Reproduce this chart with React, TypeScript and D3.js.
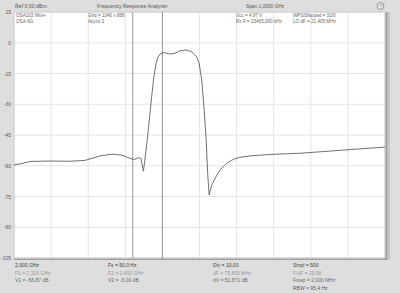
import React from "react";
import * as d3 from "d3";

const freqGHz = [2.0, 2.0216, 2.043, 2.097, 2.151, 2.191, 2.232, 2.267, 2.294, 2.31, 2.321, 2.329, 2.335, 2.342, 2.349, 2.355, 2.362, 2.371, 2.377, 2.383, 2.389, 2.396, 2.407, 2.42, 2.434, 2.447, 2.464, 2.479, 2.492, 2.499, 2.506, 2.512, 2.518, 2.522, 2.526, 2.533, 2.542, 2.555, 2.573, 2.591, 2.609, 2.636, 2.69, 2.771, 2.833, 2.914, 3.0];
const levelDb = [-59.6, -58.9, -57.9, -57.7, -57.8, -57.4, -55.2, -54.3, -55.0, -56.2, -56.9, -56.7, -56.0, -56.4, -62.6, -53.8, -42.6, -26.3, -16.6, -10.0, -6.8, -5.1, -4.85, -5.5, -5.1, -4.0, -3.5, -4.4, -6.8, -10.0, -18.2, -31.2, -47.4, -63.7, -74.3, -69.4, -66.1, -62.1, -58.8, -56.9, -55.9, -55.2, -54.5, -53.9, -53.1, -52.0, -50.9];
const yTicks = [15, 0, -15, -30, -45, -60, -75, -90, -105];
const xTicks = [2.0, 2.1, 2.2, 2.3, 2.4, 2.5, 2.6, 2.7, 2.8, 2.9, 3.0];
const cursorFreqs = [2.32, 2.4];

const topTitle = "Frequency Response Analyzer";
const topRef = "Ref  0,00 dBm";
const topSpan = "Span  1,0000 GHz";
const headerCols = [
  ["OSA103 Mini+", "OSA-6G"],
  ["Grid = 1040 x 888", "Async 2"],
  ["Vcc = 4,97 V", "Rx F = 23465,000 kHz"],
  ["WPS/Skipped  = 32/0", "LO dF = 21,405 MHz"],
];
const footerCols = [
  ["2,000 GHz", "F1 = 2,320 GHz", "V1 = -56,87 dB"],
  ["Fs = 50,0 Hz", "F2 = 2,400 GHz", "V2 = -5,00 dB"],
  ["Div = 10,00", "dF = 79,800 MHz", "dV = 51,871 dB"],
  ["Smpl = 500", "F/dF = 29,58", "Fstep = 2,000 MHz", "RBW = 95,4 Hz"],
];

const W = 400;
const H = 293;
const L = 14, R = 385, T = 12, B = 258;
const headerX = [16, 88, 236, 293];
const footerX = [15, 108, 213, 293];
const footerColors = ["#3c3c3c", "#9a9a9a", "#6a6a6a", "#5a5a5a"];
const FONT = "'Liberation Sans', Arial, sans-serif";

export default function App() {
  const x = d3.scaleLinear().domain([2.0, 3.0]).range([L, R]);
  const y = d3.scaleLinear().domain([15, -105]).range([T, B]);
  const pts: [number, number][] = freqGHz.map((f, i) => [f, levelDb[i]]);
  const line = d3.line<[number, number]>().x(d => x(d[0])).y(d => y(d[1]));

  return (
    <svg width={W} height={H} style={{ position: "absolute", left: 0, top: 0, display: "block" }} fontFamily={FONT}>
      <rect x={0} y={0} width={W} height={H} fill="#dedede" />
      <rect x={R} y={T} width={5} height={B - T + 2} fill="#c4c4c4" />
      <line x1={R + 1} x2={R + 1} y1={T} y2={B + 1} stroke="#8a8a8a" strokeWidth={1.5} />
      <line x1={L} x2={R + 2} y1={B + 1} y2={B + 1} stroke="#8a8a8a" strokeWidth={1.5} />
      <rect x={L} y={T} width={R - L} height={B - T} fill="#ffffff" stroke="#a0a0a0" strokeWidth={0.8} />
      {xTicks.map((t, i) => (
        <line key={"vx" + i} x1={x(t)} x2={x(t)} y1={T} y2={B} stroke="#e4e4e4" strokeWidth={1} />
      ))}
      {yTicks.map((t, i) => (
        <line key={"hy" + i} x1={L} x2={R} y1={y(t)} y2={y(t)} stroke="#e4e4e4" strokeWidth={1} />
      ))}
      {cursorFreqs.map((f, i) => (
        <line key={"c" + i} x1={x(f)} x2={x(f)} y1={T} y2={B} stroke="#999" strokeWidth={1} />
      ))}
      <path d={line(pts) || ""} fill="none" stroke="#606060" strokeWidth={0.9} />
      {yTicks.map((t, i) => (
        <text key={"yl" + i} x={11} y={y(t) + 2} fontSize={5} fill="#555" textAnchor="end">{t}</text>
      ))}
      <text x={15} y={8} fontSize={5.2} fill="#555">{topRef}</text>
      <text x={97} y={8} fontSize={5.2} fill="#555">{topTitle}</text>
      <text x={246} y={8} fontSize={4.8} fill="#555">{topSpan}</text>
      <circle cx={380.5} cy={6} r={3.5} fill="none" stroke="#888" strokeWidth={0.8} />
      <line x1={380.5} y1={6} x2={382} y2={4} stroke="#888" strokeWidth={0.7} />
      {headerCols.map((col, ci) =>
        col.map((s, ri) => (
          <text key={"h" + ci + "-" + ri} x={headerX[ci]} y={17 + ri * 5.5} fontSize={4.6} fill="#666">{s}</text>
        ))
      )}
      {footerCols.map((col, ci) =>
        col.map((s, ri) => (
          <text key={"f" + ci + "-" + ri} x={footerX[ci]} y={267 + ri * 7.7} fontSize={5} fill={footerColors[ri]}>{s}</text>
        ))
      )}
    </svg>
  );
}
